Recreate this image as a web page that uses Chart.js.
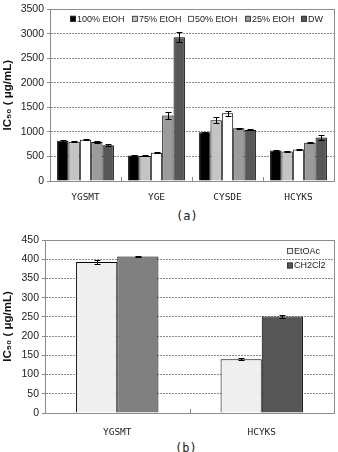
<!DOCTYPE html>
<html><head><meta charset="utf-8">
<script src="https://cdn.jsdelivr.net/npm/chart.js@4.4.1/dist/chart.umd.min.js"></script>
<style>
html,body{margin:0;padding:0;background:#fff;width:338px;height:452px;overflow:hidden;}
#wa{position:absolute;left:0;top:0;width:338px;height:205px;}
#wb{position:absolute;left:0;top:228px;width:338px;height:210px;}
.cap{position:absolute;font:12px "DejaVu Sans Mono",monospace;color:#222;line-height:14px;}
</style></head><body>
<div id="wa"><canvas id="ca"></canvas></div>
<div class="cap" style="left:176px;top:209px">(a)</div>
<div id="wb"><canvas id="cb"></canvas></div>
<div class="cap" style="left:175px;top:441px">(b)</div>
<script>
// ---- Data (a) ----
const categoriesA = ['YGSMT', 'YGE', 'CYSDE', 'HCYKS'];
const seriesNamesA = ['100% EtOH', '75% EtOH', '50% EtOH', '25% EtOH', 'DW'];
const etoh100 = [820, 520, 995, 620];
const etoh75  = [800, 510, 1240, 600];
const etoh50  = [840, 575, 1380, 640];
const etoh25  = [795, 1335, 1075, 780];
const dw      = [730, 2930, 1040, 885];
const err100 = [15, 10, 10, 10];
const err75  = [15, 10, 63, 10];
const err50  = [10, 10, 50, 10];
const err25  = [15, 80, 15, 15];
const errDW  = [25, 100, 10, 43];
const yTicksA = [0, 500, 1000, 1500, 2000, 2500, 3000, 3500];

// ---- Data (b) ----
const categoriesB = ['YGSMT', 'HCYKS'];
const seriesNamesB = ['EtOAc', 'CH2Cl2'];
const etoac  = [393, 140];
const ch2cl2 = [407, 251];
const errEtoac  = [5, 3];
const errCh2cl2 = [2, 3];
const yTicksB = [0, 50, 100, 150, 200, 250, 300, 350, 400, 450];

const yTitle = 'IC₅₀ ( μg/mL)';

const errorBars = {
  id: 'errbars',
  afterDatasetsDraw(chart) {
    const ctx = chart.ctx, y = chart.scales.y;
    chart.data.datasets.forEach((ds, di) => {
      if (!ds.errors) return;
      chart.getDatasetMeta(di).data.forEach((bar, i) => {
        const v = ds.data[i], e = ds.errors[i];
        const yt = Math.round(y.getPixelForValue(v + e)) + 0.5;
        const yb = Math.round(y.getPixelForValue(v - e)) + 0.5;
        const x = Math.round(bar.x) + 0.5, cw = 3;
        ctx.save();
        ctx.strokeStyle = '#000'; ctx.lineWidth = 1;
        ctx.beginPath();
        ctx.moveTo(x, yt); ctx.lineTo(x, yb);
        ctx.moveTo(x - cw, yt); ctx.lineTo(x + cw, yt);
        ctx.moveTo(x - cw, yb); ctx.lineTo(x + cw, yb);
        ctx.stroke();
        ctx.restore();
      });
    });
  }
};

const frame = {
  id: 'frame',
  afterDatasetsDraw(chart) {
    const a = chart.chartArea, ctx = chart.ctx;
    ctx.save();
    ctx.setLineDash([]);
    ctx.strokeStyle = '#8c8c8c'; ctx.lineWidth = 1;
    ctx.strokeRect(Math.round(a.left) + 0.5, Math.round(a.top) + 0.5,
                   Math.round(a.right - a.left), Math.round(a.bottom - a.top));
    const n = chart.data.labels.length;
    const w = (a.right - a.left) / n;
    ctx.beginPath();
    for (let i = 1; i < n; i++) {
      const x = Math.round(a.left + w * i) + 0.5;
      ctx.moveTo(x, a.bottom); ctx.lineTo(x, a.bottom - 4);
    }
    ctx.stroke();
    ctx.restore();
  }
};

const inLegend = {
  id: 'inlegend',
  afterDraw(chart, args, opts) {
    const a = chart.chartArea, ctx = chart.ctx;
    ctx.save();
    ctx.font = opts.font;
    ctx.textBaseline = 'middle';
    chart.data.datasets.forEach((ds, i) => {
      const p = opts.pos[i];
      const x = (p[0] < 0 ? a.right : a.left) + p[0], y = a.top + p[1];
      ctx.fillStyle = ds.legendColor || ds.backgroundColor;
      ctx.fillRect(x, y - 3, 6, 6);
      ctx.strokeStyle = '#333'; ctx.lineWidth = 0.8;
      ctx.strokeRect(x + 0.5, y - 2.5, 5, 5);
      ctx.fillStyle = '#222';
      ctx.fillText(ds.label, x + 7, y + 0.5);
    });
    ctx.restore();
  }
};

function baseOptions(ticks, yW, xH, padTop, tickPadX, legendCfg, catPct) {
  return {
    responsive: true, maintainAspectRatio: false, animation: false,
    layout: { padding: { top: padTop, right: 4, left: 0, bottom: 0 } },
    datasets: { bar: { barPercentage: 1, categoryPercentage: catPct, borderWidth: 1, borderColor: '#000' } },
    plugins: { legend: { display: false }, tooltip: { enabled: false }, inlegend: legendCfg },
    scales: {
      x: {
        grid: { display: false },
        border: { display: false },
        ticks: { padding: tickPadX, color: '#222', font: { family: 'DejaVu Sans Mono', size: 9.5 }, maxRotation: 0 },
        afterFit(s) { s.height = xH; }
      },
      y: {
        min: ticks[0], max: ticks[ticks.length - 1],
        afterBuildTicks(s) { s.ticks = ticks.map(v => ({ value: v })); },
        grid: { color: '#8a8a8a', lineWidth: 1, drawTicks: true, tickLength: 3, tickColor: '#8c8c8c', tickBorderDash: [] },
        border: { display: true, color: '#8c8c8c', dash: [2, 1] },
        ticks: { padding: 3, color: '#222', font: { family: 'Liberation Sans', size: 10.5 }, callback: v => String(v) },
        title: { display: true, text: yTitle, color: '#111', font: { family: 'Liberation Sans', size: 11.5, weight: 'bold' }, padding: { top: 1, bottom: 0 } },
        afterFit(s) { s.width = yW; }
      }
    }
  };
}

new Chart(document.getElementById('ca'), {
  type: 'bar',
  data: {
    labels: categoriesA,
    datasets: [
      { label: seriesNamesA[0], data: etoh100, errors: err100, backgroundColor: '#000000' },
      { label: seriesNamesA[1], data: etoh75,  errors: err75,  backgroundColor: '#c4c4c4' },
      { label: seriesNamesA[2], data: etoh50,  errors: err50,  backgroundColor: '#ffffff' },
      { label: seriesNamesA[3], data: etoh25,  errors: err25,  backgroundColor: '#9b9b9b' },
      { label: seriesNamesA[4], data: dw,      errors: errDW,  backgroundColor: '#575757' }
    ]
  },
  options: baseOptions(yTicksA, 50, 24, 6, 3,
    { font: '9px "Liberation Sans Narrow", "Liberation Sans", sans-serif', pos: [[20, 9.5], [82, 9.5], [138, 9.5], [195, 9.5], [251, 9.5]] }, 0.8),
  plugins: [errorBars, frame, inLegend]
});

new Chart(document.getElementById('cb'), {
  type: 'bar',
  data: {
    labels: categoriesB,
    datasets: [
      { label: seriesNamesB[0], data: etoac,  errors: errEtoac,  backgroundColor: '#efefef' },
      { label: seriesNamesB[1], data: ch2cl2, errors: errCh2cl2, backgroundColor: ['#808080', '#565656'], legendColor: '#565656' }
    ]
  },
  options: baseOptions(yTicksB, 45, 25, 12, 6,
    { font: '9px "Liberation Sans Narrow", "Liberation Sans", sans-serif', pos: [[-47, 11], [-47, 25.5]] }, 0.57),
  plugins: [errorBars, frame, inLegend]
});
</script>
</body></html>
